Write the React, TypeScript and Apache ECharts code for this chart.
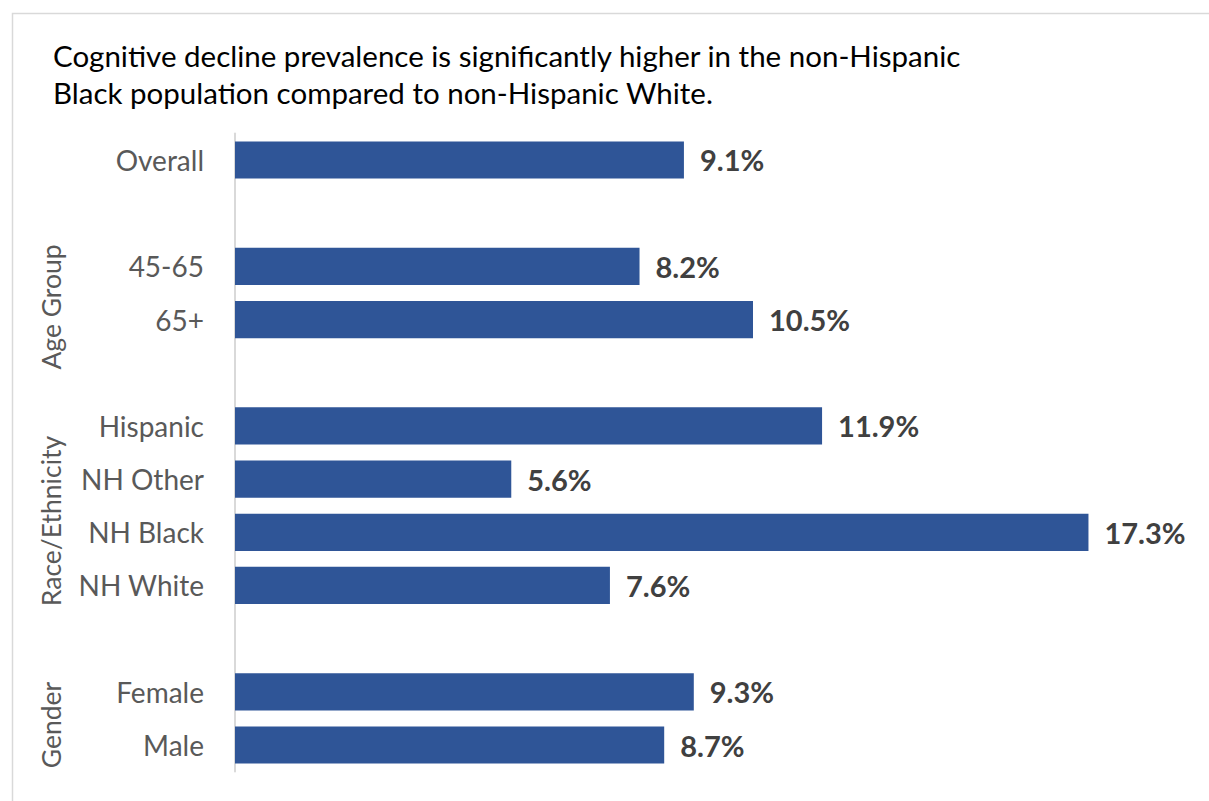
import React, { useEffect, useRef } from "react";
import * as echarts from "echarts";

const categories = ["Overall", " ", "45-65", "65+", "  ", "Hispanic", "NH Other", "NH Black", "NH White", "   ", "Female", "Male"];
const values: (number | null)[] = [9.1, null, 8.2, 10.5, null, 11.9, 5.6, 17.3, 7.6, null, 9.3, 8.7];
const groupLabels = ["Age Group", "Race/Ethnicity", "Gender"];
const titleLines = [
  "Cognitive decline prevalence is significantly higher in the non-Hispanic",
  "Black population compared to non-Hispanic White.",
];

const FONT = "Lato, 'Open Sans', sans-serif";

export default function App() {
  const ref = useRef<HTMLDivElement>(null);
  useEffect(() => {
    if (!ref.current) return;
    const chart = echarts.init(ref.current, null, { renderer: "svg" });
    const gridTop = 133.4;
    const gridBottom = 29.4;
    const groupY = [307, 521, 725];
    const groupGraphics = groupLabels.map((t, i) => ({
      type: "text",
      x: 51,
      y: groupY[i],
      rotation: Math.PI / 2,
      style: {
        text: t,
        fill: "#595959",
        font: `26.5px ${FONT}`,
        textAlign: "center",
        textVerticalAlign: "middle",
      },
    }));
    chart.setOption({
      animation: false,
      grid: { left: 235, right: 86, top: gridTop, bottom: gridBottom, containLabel: false },
      xAxis: { type: "value", min: 0, max: 18, show: false },
      yAxis: {
        type: "category",
        data: categories,
        inverse: true,
        axisLine: { show: true, lineStyle: { color: "#d9d9d9", width: 2 } },
        axisTick: { show: false },
        axisLabel: { color: "#595959", fontSize: 28, fontFamily: FONT, margin: 31 },
      },
      series: [
        {
          type: "bar",
          data: values,
          barCategoryGap: "30%",
          itemStyle: { color: "#2f5597" },
          label: {
            show: true,
            position: "right",
            distance: 16,
            formatter: (p: any) => `${Number(p.value).toFixed(1)}%`,
            color: "#404040",
            fontWeight: "bold",
            fontSize: 29,
            fontFamily: FONT,
          },
        },
      ],
      graphic: [
        {
          type: "rect",
          shape: { x: 12.5, y: 13.5, width: 1400, height: 1000 },
          style: { fill: "none", stroke: "#d9d9d9", lineWidth: 1.5 },
          silent: true,
        },
        ...titleLines.map((t, i) => ({
          type: "text",
          x: 53,
          y: 55 + i * 37,
          style: {
            text: t,
            fill: "#000000",
            font: `29.5px ${FONT}`,
            textVerticalAlign: "middle",
          },
        })),
        ...groupGraphics,
      ],
    });
    return () => chart.dispose();
  }, []);
  return <div ref={ref} style={{ width: 1209, height: 801, position: "absolute", left: 0, top: 0 }} />;
}
